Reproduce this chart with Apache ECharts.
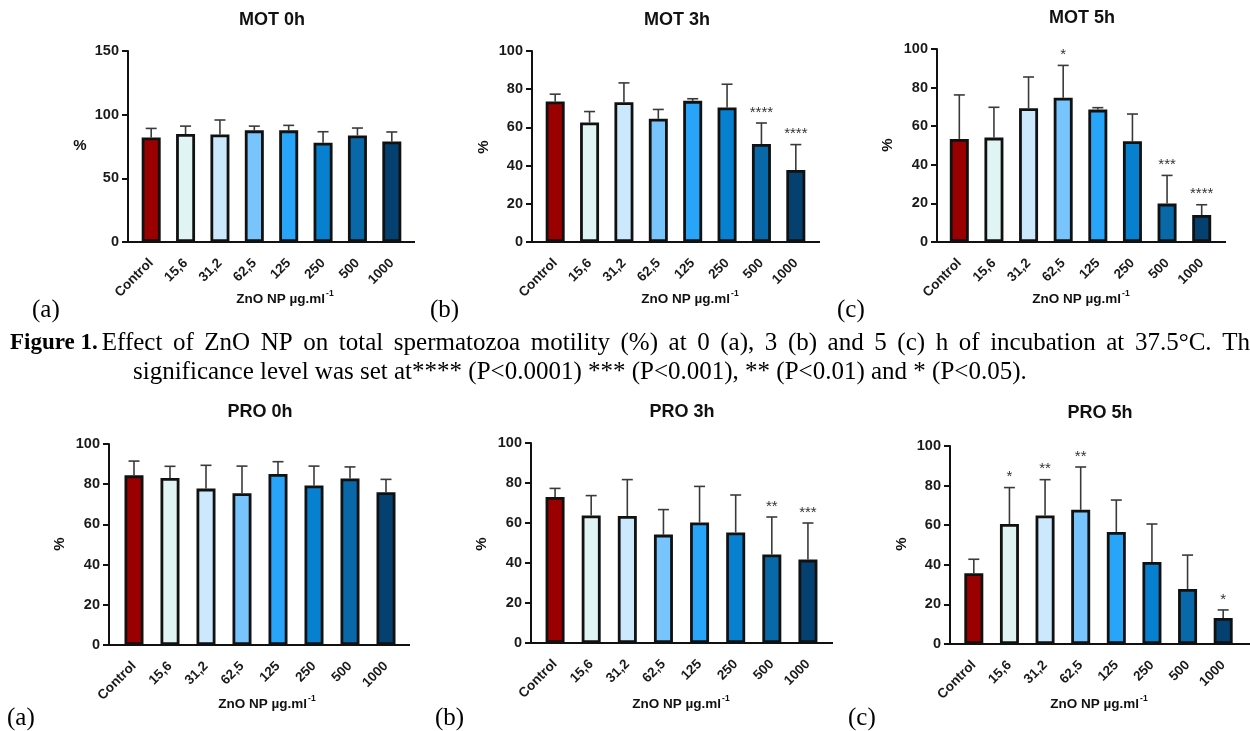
<!DOCTYPE html>
<html>
<head>
<meta charset="utf-8">
<script src="https://cdn.jsdelivr.net/npm/echarts@6/dist/echarts.min.js"></script>
<style>
html,body{margin:0;padding:0;background:#fff;}
#chart{width:1250px;height:731px;}
</style>
</head>
<body>
<div id="chart"></div>
<script>
// ---------- DATA ----------
const categories = ['Control', '15,6', '31,2', '62,5', '125', '250', '500', '1000'];
const barColors = ['#9B0000', '#E0F4F4', '#CCE8FC', '#78C4FC', '#28A4F8', '#0880D0', '#0868A8', '#044070'];

const mot0hMean = [82.1, 84.8, 84.5, 87.7, 87.7, 78.0, 83.7, 79.0];
const mot0hUpper = [89.2, 91.0, 95.8, 91.0, 91.6, 86.6, 89.5, 86.4];
const mot0hSig = ['', '', '', '', '', '', '', ''];

const mot3hMean = [73.6, 62.6, 73.2, 64.5, 73.9, 70.4, 51.3, 37.7];
const mot3hUpper = [77.4, 68.3, 83.3, 69.4, 75.0, 82.6, 62.3, 51.0];
const mot3hSig = ['', '', '', '', '', '', '****', '****'];

const mot5hMean = [53.4, 54.1, 69.3, 74.8, 68.6, 52.2, 19.9, 14.0];
const mot5hUpper = [76.2, 69.8, 85.5, 91.5, 69.6, 66.3, 34.5, 19.3];
const mot5hSig = ['', '', '', '*', '', '', '***', '****'];

const pro0hMean = [84.4, 83.1, 77.8, 75.5, 85.1, 79.4, 82.8, 76.0];
const pro0hUpper = [91.5, 88.9, 89.4, 89.0, 91.2, 89.0, 88.6, 82.4];
const pro0hSig = ['', '', '', '', '', '', '', ''];

const pro3hMean = [73.0, 63.8, 63.5, 54.2, 60.3, 55.3, 44.3, 41.7];
const pro3hUpper = [77.3, 73.7, 81.7, 66.7, 78.3, 74.0, 63.0, 60.0];
const pro3hSig = ['', '', '', '', '', '', '**', '***'];

const pro5hMean = [35.7, 60.6, 64.9, 67.8, 56.6, 41.4, 27.8, 13.1];
const pro5hUpper = [42.8, 79.0, 83.0, 89.4, 72.7, 60.6, 44.9, 17.2];
const pro5hSig = ['', '*', '**', '**', '', '', '', '*'];

const panelTitles = ['MOT 0h', 'MOT 3h', 'MOT 5h', 'PRO 0h', 'PRO 3h', 'PRO 5h'];
const yMaxes = [150, 100, 100, 100, 100, 100];
const yIntervals = [50, 20, 20, 20, 20, 20];
const panelLetters = ['(a)', '(b)', '(c)', '(a)', '(b)', '(c)'];
const captionBold = 'Figure 1.';
const captionLine1 = 'Effect of ZnO NP on total spermatozoa motility (%) at 0 (a), 3 (b) and 5 (c) h of incubation at 37.5°C. The';
const captionLine2 = 'significance level was set at**** (P<0.0001) *** (P<0.001), ** (P<0.01) and * (P<0.05).';

// ---------- LAYOUT ----------
const panelData = [
  {mean: mot0hMean, upper: mot0hUpper, sig: mot0hSig},
  {mean: mot3hMean, upper: mot3hUpper, sig: mot3hSig},
  {mean: mot5hMean, upper: mot5hUpper, sig: mot5hSig},
  {mean: pro0hMean, upper: pro0hUpper, sig: pro0hSig},
  {mean: pro3hMean, upper: pro3hUpper, sig: pro3hSig},
  {mean: pro5hMean, upper: pro5hUpper, sig: pro5hSig}
];
const layout = [
  {axisX: 128, left: 134, width: 275, lineEnd: 415, top: 51, bottom: 242, title: [272, 20], xname: [285, 298], yname: [80, 146], yRot: false, letter: [32, 310]},
  {axisX: 532, left: 538, width: 275, lineEnd: 820, top: 51, bottom: 242, title: [677, 20], xname: [690, 298], yname: [484, 147], yRot: true, letter: [430, 310]},
  {axisX: 937, left: 942, width: 277, lineEnd: 1226, top: 49, bottom: 242, title: [1082, 18], xname: [1081, 298], yname: [888, 145], yRot: true, letter: [837, 310]},
  {axisX: 109, left: 116, width: 288, lineEnd: 410, top: 444, bottom: 645, title: [260, 412], xname: [267, 703], yname: [60, 544], yRot: true, letter: [7, 718]},
  {axisX: 531, left: 537, width: 289, lineEnd: 833, top: 443, bottom: 643, title: [682, 412], xname: [681, 703], yname: [482, 544], yRot: true, letter: [435, 718]},
  {axisX: 950, left: 956, width: 285, lineEnd: 1250, top: 446, bottom: 644, title: [1100, 413], xname: [1099, 703], yname: [902, 544], yRot: true, letter: [848, 718]}
];

const SANS = '"Liberation Sans", Arial, sans-serif';
const SERIF = '"Liberation Serif", "Times New Roman", serif';
const INK = '#111';
const CAP_SIZE = 25;

const grids = [], xAxes = [], yAxes = [], series = [], graphics = [];

layout.forEach((L, k) => {
  const D = panelData[k];
  grids.push({left: L.left, top: L.top, width: L.width, height: L.bottom - L.top, containLabel: false});
  xAxes.push({
    type: 'category', gridIndex: k, data: categories,
    axisLine: {lineStyle: {color: INK, width: 2}},
    axisTick: {alignWithLabel: true, length: 6, lineStyle: {color: INK, width: 2}},
    axisLabel: {rotate: 45, interval: 0, margin: 19, color: '#1a1a1a', fontFamily: SANS, fontWeight: 'bold', fontSize: 13.5},
    splitLine: {show: false}
  });
  yAxes.push({
    type: 'value', gridIndex: k, min: 0, max: yMaxes[k], interval: yIntervals[k],
    offset: L.left - L.axisX,
    axisLine: {show: true, lineStyle: {color: INK, width: 2}},
    axisTick: {show: true, length: 6, lineStyle: {color: INK, width: 2}},
    axisLabel: {margin: 9, color: '#1a1a1a', fontFamily: SANS, fontWeight: 'bold', fontSize: 14.5},
    splitLine: {show: false}
  });
  // error bars (behind bars)
  series.push({
    type: 'custom', xAxisIndex: k, yAxisIndex: k, z: 1,
    data: D.mean.map((m, i) => [i, m, D.upper[i]]),
    encode: {x: 0, y: [1, 2]},
    renderItem: (params, api) => {
      const x = api.value(0);
      const p0 = api.coord([x, api.value(1)]);
      const p1 = api.coord([x, api.value(2)]);
      const hw = 5.5;
      const st = {stroke: '#3a3a3a', lineWidth: 1.6};
      return {type: 'group', children: [
        {type: 'line', shape: {x1: p0[0], y1: p0[1], x2: p1[0], y2: p1[1]}, style: st},
        {type: 'line', shape: {x1: p1[0] - hw, y1: p1[1], x2: p1[0] + hw, y2: p1[1]}, style: st}
      ]};
    }
  });
  series.push({
    type: 'bar', xAxisIndex: k, yAxisIndex: k, z: 2, barWidth: 19,
    data: D.mean,
    itemStyle: {color: (p) => barColors[p.dataIndex], borderColor: INK, borderWidth: 2.8}
  });
  // significance stars
  series.push({
    type: 'custom', xAxisIndex: k, yAxisIndex: k, z: 3,
    data: D.upper.map((u, i) => [i, u]),
    encode: {x: 0, y: 1},
    renderItem: (params, api) => {
      const s = D.sig[params.dataIndex];
      if (!s) return null;
      const p = api.coord([api.value(0), api.value(1)]);
      return {type: 'text', x: p[0], y: p[1] - 3,
        style: {text: s, fill: '#333', font: '15px ' + SANS, textAlign: 'center', textVerticalAlign: 'bottom'}};
    }
  });
  // axis line extensions (GraphPad-style gap)
  graphics.push({type: 'line', shape: {x1: L.axisX - 1, y1: L.bottom, x2: L.left, y2: L.bottom}, style: {stroke: INK, lineWidth: 2}});
  graphics.push({type: 'line', shape: {x1: L.left + L.width, y1: L.bottom, x2: L.lineEnd, y2: L.bottom}, style: {stroke: INK, lineWidth: 2}});
  // title
  graphics.push({type: 'text', x: L.title[0], y: L.title[1],
    style: {text: panelTitles[k], fill: INK, font: 'bold 18px ' + SANS, textAlign: 'center', textVerticalAlign: 'middle'}});
  // x axis name
  graphics.push({type: 'text', x: L.xname[0], y: L.xname[1],
    style: {text: '{a|ZnO NP µg.ml}{s|-1}', textAlign: 'center', textVerticalAlign: 'middle',
      rich: {a: {font: 'bold 13.5px ' + SANS, fill: INK, verticalAlign: 'bottom', lineHeight: 17},
             s: {font: 'bold 8.5px ' + SANS, fill: INK, verticalAlign: 'top', lineHeight: 17, padding: [0, 0, 0, 1]}}}});
  // y axis name
  graphics.push({type: 'text', x: L.yname[0], y: L.yname[1], rotation: L.yRot ? Math.PI / 2 : 0,
    style: {text: '%', fill: INK, font: 'bold 15px ' + SANS, textAlign: 'center', textVerticalAlign: 'middle'}});
  // panel letter
  graphics.push({type: 'text', x: L.letter[0], y: L.letter[1],
    style: {text: panelLetters[k], fill: '#000', font: CAP_SIZE + 'px ' + SERIF, textAlign: 'left', textVerticalAlign: 'middle'}});
});

// caption line 1: justified across the page (word positions from measured widths)
(function () {
  const ctx = document.createElement('canvas').getContext('2d');
  const boldFont = 'bold 23px ' + SERIF;
  const regFont = CAP_SIZE + 'px ' + SERIF;
  const startX = 10;
  // bold lead-in
  graphics.push({type: 'text', x: startX, y: 343,
    style: {text: captionBold, fill: '#000', font: boldFont, textAlign: 'left', textVerticalAlign: 'middle'}});
  ctx.font = boldFont;
  const boldW = ctx.measureText(captionBold).width;
  const words = captionLine1.split(' ').map(w => ({t: w}));
  ctx.font = regFont;
  let total = 0;
  words.forEach(w => { w.w = ctx.measureText(w.t).width; total += w.w; });
  const lineStart = startX + boldW + 4, endX = 1261;
  const gap = (endX - lineStart - total) / (words.length - 1);
  let x = lineStart;
  words.forEach(w => {
    graphics.push({type: 'text', x: x, y: 343,
      style: {text: w.t, fill: '#000', font: regFont, textAlign: 'left', textVerticalAlign: 'middle'}});
    x += w.w + gap;
  });
})();
graphics.push({type: 'text', x: 133, y: 372,
  style: {text: captionLine2, fill: '#000', font: CAP_SIZE + 'px ' + SERIF, textAlign: 'left', textVerticalAlign: 'middle'}});

const chart = echarts.init(document.getElementById('chart'), null, {renderer: 'canvas'});
chart.setOption({
  animation: false,
  backgroundColor: '#fff',
  grid: grids,
  xAxis: xAxes,
  yAxis: yAxes,
  series: series,
  graphic: graphics
});
</script>
</body>
</html>
